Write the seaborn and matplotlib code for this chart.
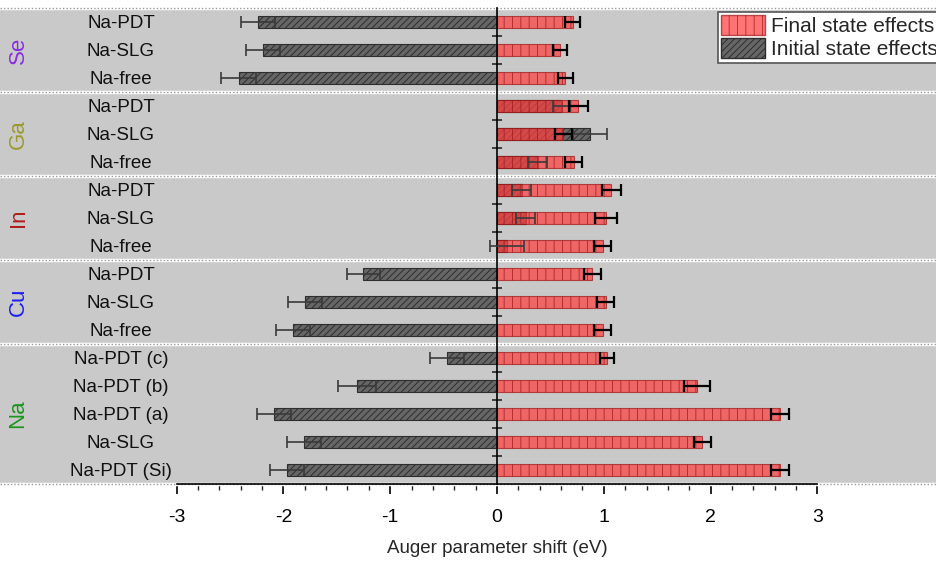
import numpy as np
import pandas as pd
import seaborn as sns
import matplotlib.pyplot as plt
from matplotlib.patches import Patch
from matplotlib.ticker import FixedLocator
from matplotlib.transforms import blended_transform_factory

# data (eV)
elements = ['Se', 'Ga', 'In', 'Cu', 'Na']
element_colors = ['#8a2be2', '#9a9a2a', '#b01c1c', '#1c1cf0', '#1a961a']
group_sizes = [3, 3, 3, 3, 5]
samples = ['Na-PDT', 'Na-SLG', 'Na-free',
           'Na-PDT', 'Na-SLG', 'Na-free',
           'Na-PDT', 'Na-SLG', 'Na-free',
           'Na-PDT', 'Na-SLG', 'Na-free',
           'Na-PDT (c)', 'Na-PDT (b)', 'Na-PDT (a)', 'Na-SLG', 'Na-PDT (Si)']
final_shift = [0.71, 0.59, 0.64,
               0.76, 0.62, 0.72,
               1.07, 1.02, 0.99,
               0.89, 1.02, 0.99,
               1.03, 1.87, 2.65, 1.92, 2.65]
final_err = [0.07, 0.07, 0.07,
             0.09, 0.08, 0.08,
             0.09, 0.10, 0.08,
             0.08, 0.08, 0.08,
             0.07, 0.12, 0.08, 0.08, 0.08]
initial_shift = [-2.24, -2.19, -2.42,
                 0.60, 0.87, 0.38,
                 0.23, 0.27, 0.09,
                 -1.25, -1.80, -1.91,
                 -0.47, -1.31, -2.09, -1.81, -1.97]
initial_err = [0.16, 0.16, 0.16,
               0.08, 0.16, 0.09,
               0.09, 0.09, 0.16,
               0.15, 0.16, 0.16,
               0.16, 0.18, 0.16, 0.16, 0.16]

groups = [e for e, n in zip(elements, group_sizes) for _ in range(n)]
rows = [f'{g}|{s}' for g, s in zip(groups, samples)]
df = pd.DataFrame({'row': rows, 'final': final_shift, 'final_err': final_err,
                   'initial': initial_shift, 'initial_err': initial_err})

sns.set_style('white')
plt.rcParams['font.family'] = ['Liberation Sans', 'DejaVu Sans']
plt.rcParams['hatch.linewidth'] = 0.7

red = '#ff4040'
grey = '#666666'

fig = plt.figure(figsize=(9.37, 5.62), dpi=100)
ax = fig.add_axes([0, 78 / 562, 1, 476 / 562])
ax.set_facecolor('#c9c9c9')

# initial state effects (grey, underneath)
sns.barplot(data=df, x='initial', y='row', order=rows, color=grey, orient='h',
            width=0.46, saturation=1, errorbar=None, ax=ax)
for bar in ax.containers[0]:
    bar.set_hatch('/////')
    bar.set_edgecolor('#2e2e2e')
    bar.set_linewidth(0.8)

# final state effects (red, semi transparent on top)
sns.barplot(data=df, x='final', y='row', order=rows, color=red, orient='h',
            width=0.46, saturation=1, errorbar=None, alpha=0.72, ax=ax)
for bar in ax.containers[1]:
    bar.set_hatch('||')
    bar.set_edgecolor('#a01818')
    bar.set_linewidth(0.8)

ypos = np.arange(len(rows))
ax.errorbar(df['initial'], ypos, xerr=df['initial_err'], fmt='none',
            ecolor='#3a3a3a', elinewidth=1.2, capsize=4, capthick=1.2, zorder=3)
ax.errorbar(df['final'], ypos, xerr=df['final_err'], fmt='none',
            ecolor='black', elinewidth=1.6, capsize=4.5, capthick=1.6, zorder=3)

# axes range: grey panel spans full width, axis only -3..3
x0 = -497 / 106.8
x1 = (937 - 497) / 106.8
ax.set_xlim(x0, x1)
ax.set_ylim(len(rows) - 0.5, -0.5)

# group separators
bounds = [-0.5] + list(np.cumsum(group_sizes) - 0.5)
for yb in bounds:
    ax.axhline(yb, color='white', lw=2.5, zorder=0.6, clip_on=False)
    ax.axhline(yb, color='#9a9a9a', lw=1.0, ls=(0, (1, 1.5)), zorder=0.7,
               clip_on=False)

for side in ['top', 'right']:
    ax.spines[side].set_visible(False)
ax.spines['left'].set_position(('data', 0))
ax.spines['left'].set_linewidth(1.2)
ax.spines['left'].set_color('black')
ax.spines['bottom'].set_bounds(-3, 3)
ax.spines['bottom'].set_linewidth(1.2)
ax.spines['bottom'].set_color('black')

ax.set_yticks(np.arange(-0.5, len(rows), 1))
ax.tick_params(axis='y', direction='inout', length=7, width=1.2,
               labelleft=False, left=True)
ax.set_xticks(np.arange(-3, 4, 1))
ax.xaxis.set_minor_locator(FixedLocator(np.arange(-3, 3.01, 0.2)))
ax.tick_params(axis='x', which='major', direction='out', length=7, width=1.2,
               labelsize=14, pad=11, bottom=True, colors='black')
ax.tick_params(axis='x', which='minor', direction='out', length=4, width=1,
               bottom=True)
ax.set_xticklabels([str(t) for t in range(-3, 4)])
ax.set_ylabel('')
ax.set_xlabel('Auger parameter shift (eV)', fontsize=13.5)
ax.xaxis.set_label_coords(497 / 937, -0.118)

# row and element labels
trans = blended_transform_factory(ax.transAxes, ax.transData)
for i, s in enumerate(samples):
    ax.text(121 / 937, i, s, transform=trans, ha='center',
            va='center_baseline', fontsize=13.5, color='#111111')
start = 0
for e, n, c in zip(elements, group_sizes, element_colors):
    ax.text(18 / 937, start + (n - 1) / 2, e, transform=trans, rotation=90,
            ha='center', va='center', fontsize=16, color=c)
    start += n

handles = [Patch(facecolor=red, alpha=0.72, edgecolor='#a01818', hatch='||',
                 label='Final state effects'),
           Patch(facecolor=grey, edgecolor='#2e2e2e', hatch='/////',
                 label='Initial state effects')]
leg = ax.legend(handles=handles, loc='upper left',
                bbox_to_anchor=(718 / 937, 1 - 4 / 476), borderaxespad=0,
                fontsize=15, frameon=True, fancybox=False, framealpha=1,
                edgecolor='#555555', handlelength=2.1, handleheight=1.1,
                labelspacing=0.1, handletextpad=0.3, borderpad=0.15)
leg.get_frame().set_linewidth(1.2)

fig.savefig('out.png', dpi=100)
